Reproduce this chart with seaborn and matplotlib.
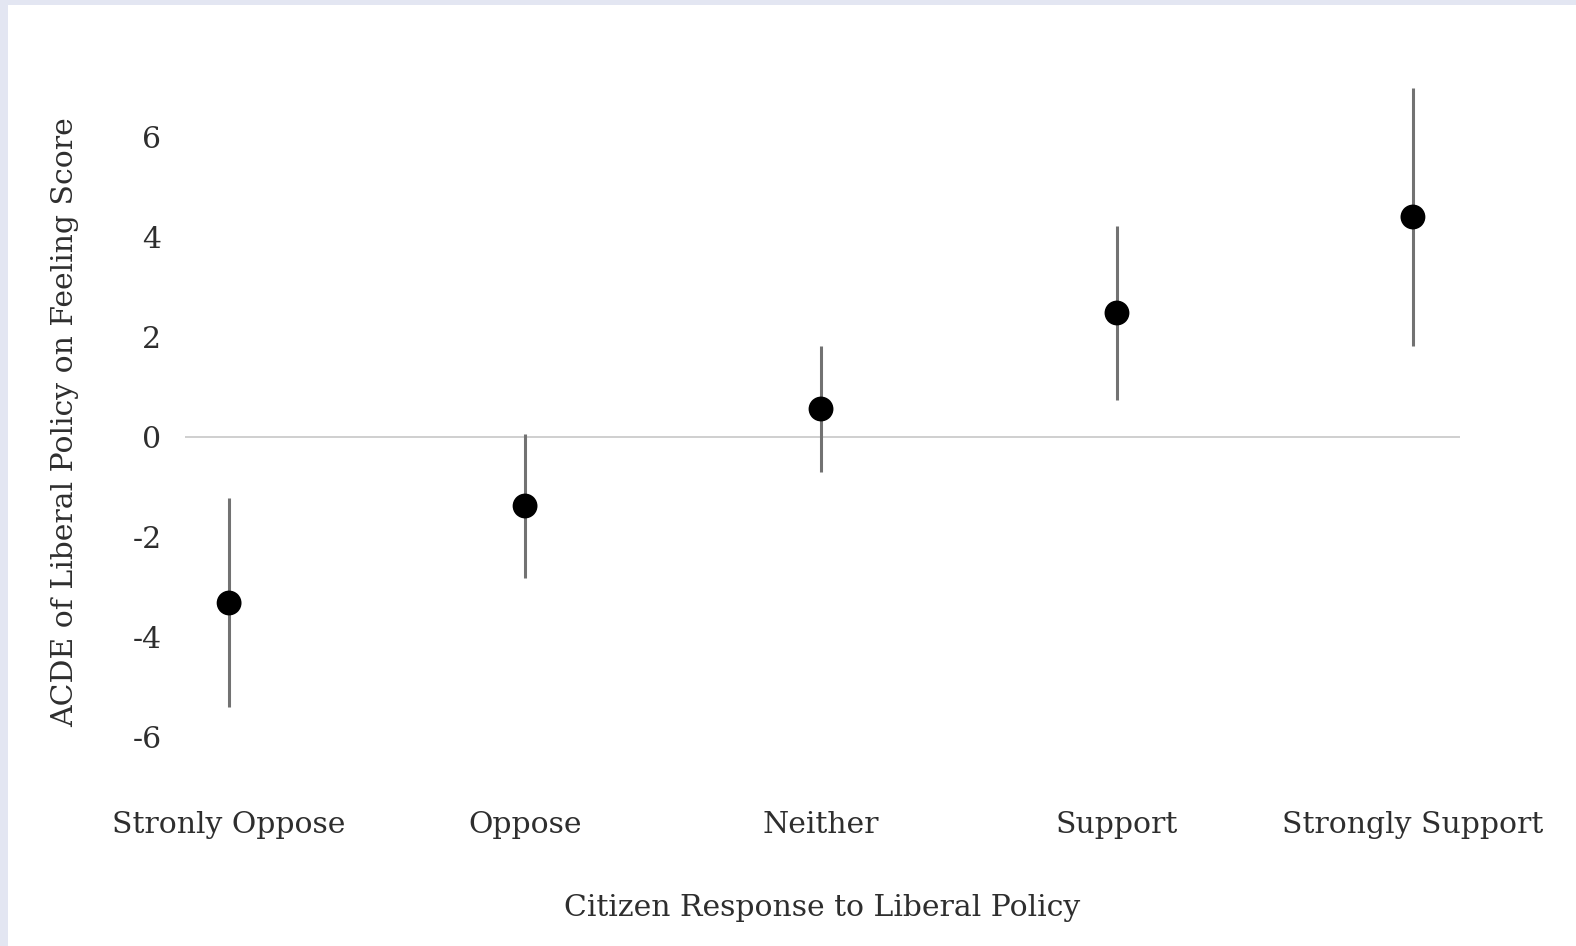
import matplotlib.pyplot as plt
import matplotlib.patches as mpatches
import seaborn as sns
import pandas as pd

# data
responses = ['Stronly Oppose', 'Oppose', 'Neither', 'Support', 'Strongly Support']
acde = [-3.32, -1.38, 0.56, 2.48, 4.40]
lower = [-5.40, -2.82, -0.70, 0.74, 1.82]
upper = [-1.22, 0.06, 1.82, 4.22, 6.98]

df = pd.DataFrame({'response': responses, 'acde': acde, 'lower': lower, 'upper': upper})

sns.set_style('white')
plt.rcParams['font.family'] = ['DejaVu Serif']
plt.rcParams['axes.unicode_minus'] = False

fig = plt.figure(figsize=(15.76, 9.46), dpi=100, facecolor='#e3e6f2')
# white panel with lavender strip on top and left
fig.patches.append(mpatches.Rectangle((8 / 1576, 0), 1, 1 - 5 / 946, transform=fig.transFigure,
                                      facecolor='white', edgecolor='none', zorder=-1))
ax = fig.add_axes([185 / 1576, 1 - 767 / 946, (1460 - 185) / 1576, (767 - 77) / 946])
ax.set_zorder(2)
ax.set_facecolor('none')

ax.axhline(0, color='#cccccc', lw=1.3, zorder=1)
ax.vlines(range(len(df)), df['lower'], df['upper'], color='#727272', lw=2.2, zorder=2)
sns.scatterplot(data=df, x='response', y='acde', color='black', s=320, edgecolor='none',
                zorder=3, ax=ax)

ax.set_xlim(-0.149, 4.159)
ax.set_ylim(-6.6, 7.2)
ax.set_yticks([-6, -4, -2, 0, 2, 4, 6])
sns.despine(ax=ax, left=True, bottom=True)

txt = '#2e2e2e'
fs = 21.5
ax.tick_params(axis='x', length=0, pad=32, labelsize=fs, labelcolor=txt)
ax.tick_params(axis='y', length=0, pad=17, labelsize=fs, labelcolor=txt)
ax.set_xlabel('Citizen Response to Liberal Policy', fontsize=fs, color=txt, labelpad=39)
ax.set_ylabel('ACDE of Liberal Policy on Feeling Score', fontsize=fs, color=txt, labelpad=38)

fig.savefig('out.png', dpi=100, facecolor=fig.get_facecolor())
